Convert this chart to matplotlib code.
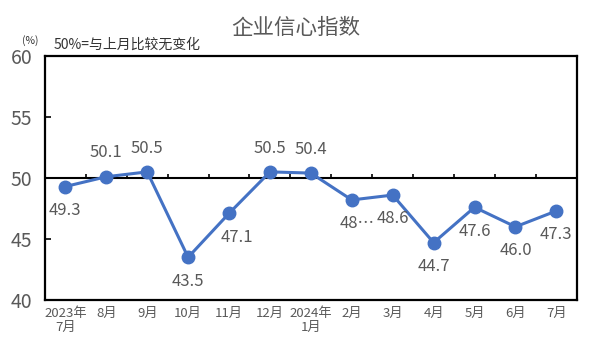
import numpy as np
import matplotlib.pyplot as plt

plt.rcParams['font.family'] = ['Noto Sans CJK SC', 'DejaVu Sans']

months = ['2023年\n7月', '8月', '9月', '10月', '11月', '12月', '2024年\n1月',
          '2月', '3月', '4月', '5月', '6月', '7月']
values = [49.3, 50.1, 50.5, 43.5, 47.1, 50.5, 50.4, 48.2, 48.6, 44.7, 47.6, 46.0, 47.3]
labels = ['49.3', '50.1', '50.5', '43.5', '47.1', '50.5', '50.4', '48…', '48.6',
          '44.7', '47.6', '46.0', '47.3']
label_above = [False, True, True, False, False, True, True, False, False,
               False, False, False, False]

grey = '#595959'
blue = '#4472C4'

fig = plt.figure(figsize=(5.91, 3.54), dpi=100)
ax = fig.add_axes([0.076, 0.1525, 0.9, 0.6895])

x = np.arange(len(months))
ax.plot(x, values, color=blue, linewidth=2.2, marker='o', markersize=9, zorder=3)

for xi, v, lab, up in zip(x, values, labels, label_above):
    dx = 6 if lab == '47.1' else (4 if lab == '48…' else 0)
    dy = 11 if up else -11
    ax.annotate(lab, (xi, v), xytext=(dx, dy), textcoords='offset points',
                ha='center', va='bottom' if up else 'top',
                fontsize=12, color=grey)

# horizontal axis at 50 with category boundary ticks
ax.axhline(50, color='black', linewidth=1.5, zorder=2)
bounds = np.arange(0.5, len(months) - 1, 1.0)
ax.vlines(bounds, 50, 50.3, color='black', linewidth=1.2, zorder=2)

ax.set_xlim(-0.5, len(months) - 0.5)
ax.set_ylim(40, 60)
ax.set_yticks([40, 45, 50, 55, 60])
ax.set_xticks(x)
ax.set_xticklabels(months, fontsize=9.5, color=grey, linespacing=1.1)
ax.tick_params(axis='x', length=0, pad=5)
ax.tick_params(axis='y', direction='in', length=4, width=1.2, labelsize=14,
               labelcolor=grey, pad=9)

for s in ax.spines.values():
    s.set_linewidth(1.6)
    s.set_color('black')

fig.text(0.5, 0.92, '企业信心指数', ha='center', va='center', fontsize=15.5, color=grey)
fig.text(0.037, 0.885, '(%)', ha='left', va='center', fontsize=7.5, color='#333333')
fig.text(0.09, 0.875, '50%=与上月比较无变化', ha='left', va='center', fontsize=10, color='#333333')

fig.savefig('out.png', dpi=100)
